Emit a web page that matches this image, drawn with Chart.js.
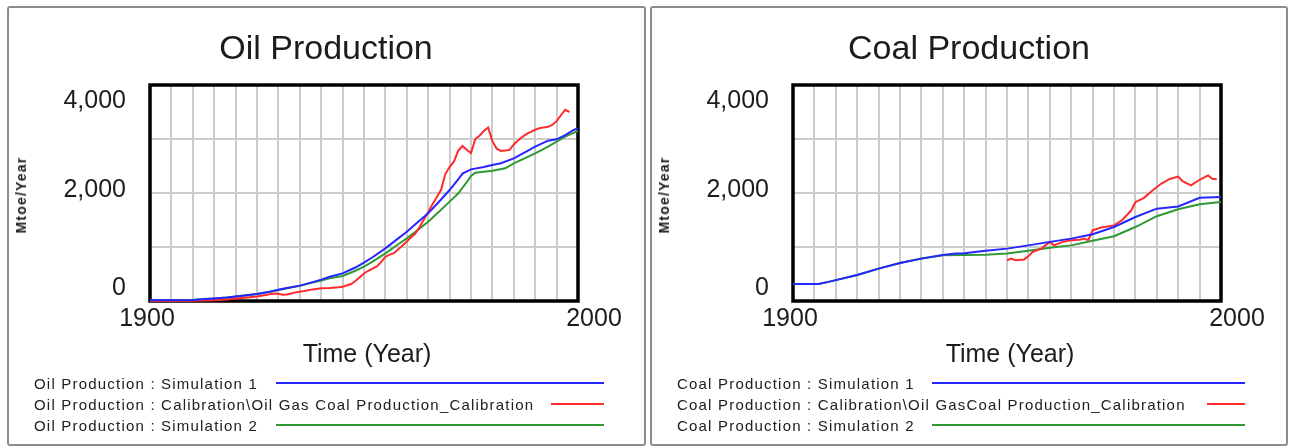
<!DOCTYPE html>
<html>
<head>
<meta charset="utf-8">
<script src="https://cdn.jsdelivr.net/npm/chart.js@4.4.1/dist/chart.umd.min.js"></script>
<style>
  html, body { margin:0; padding:0; background:#fff; width:1294px; height:447px; overflow:hidden; }
  body { position:relative; font-family:"Liberation Sans", Arial, sans-serif; color:#1c1c1c; }
  .panel { position:absolute; top:6px; height:440px; border:2px solid #8c8c8c; border-radius:3px; box-sizing:border-box; }
  canvas { position:absolute; top:0; }
  .t { position:absolute; white-space:nowrap; transform:translate(-50%,-50%); line-height:1; }
  .title { font-size:34px; }
  .axis { font-size:25px; }
  .unit { font-size:14px; font-weight:bold; letter-spacing:1.2px; transform:translate(-50%,-50%) rotate(-90deg); }
  .leg { position:absolute; font-size:15px; letter-spacing:1.2px; white-space:nowrap; line-height:1; transform:translateY(-50%); color:#202020; }
  .ll { position:absolute; height:2px; }
</style>
</head>
<body>
<div class="panel" style="left:7px; width:639px;"></div>
<div class="panel" style="left:650px; width:638px;"></div>
<canvas id="c1" width="640" height="447" style="left:0px"></canvas>
<canvas id="c2" width="640" height="447" style="left:643px"></canvas>
<div id="texts"></div>
<script>
// ---------- DATA ----------
const xTickLabels = [1900, 2000];
const yTickLabels = [0, 2000, 4000];
const unitLabel = "Mtoe/Year";
const timeLabel = "Time (Year)";

// Oil Production
const oilSim1Years = [1900,1905,1910,1913,1915,1918,1920,1922,1925,1928,1930,1932,1935,1938,1940,1942,1945,1948,1950,1952,1955,1958,1960,1962,1965,1968,1970,1972,1973,1975,1978,1980,1982,1985,1988,1990,1993,1995,1997,1999,2000];
const oilSim1Values = [15,15,20,35,45,65,85,100,130,170,210,240,285,350,395,450,512,620,710,810,975,1160,1284,1420,1623,1880,2055,2250,2360,2438,2480,2518,2550,2642,2770,2858,2969,2994,3070,3167,3200];

const oilCalYears = [1900,1905,1910,1913,1915,1918,1920,1922,1925,1927,1929,1930,1931,1932,1934,1936,1938,1940,1942,1944,1945,1947,1948,1949,1950,1951,1952,1953,1954,1955,1956,1957,1958,1959,1960,1961,1962,1963,1964,1965,1966,1967,1968,1969,1970,1971,1972,1973,1974,1975,1976,1977,1978,1979,1980,1981,1982,1983,1984,1985,1986,1987,1988,1989,1990,1991,1992,1993,1994,1995,1996,1997,1998];
const oilCalValues = [0,0,5,10,15,30,45,60,85,110,140,135,115,120,160,185,215,235,240,255,265,315,370,440,510,560,600,640,720,820,860,885,960,1030,1100,1180,1250,1370,1510,1650,1790,1920,2060,2350,2480,2580,2780,2870,2800,2740,3000,3060,3150,3215,2960,2820,2780,2785,2800,2900,2970,3040,3095,3130,3175,3200,3215,3225,3260,3330,3440,3540,3500];

const oilSim2Years = [1900,1905,1910,1913,1915,1918,1920,1922,1925,1928,1930,1932,1935,1938,1940,1942,1945,1948,1950,1952,1955,1958,1960,1962,1965,1968,1970,1972,1974,1975,1976,1980,1983,1985,1988,1990,1993,1995,1997,2000];
const oilSim2Values = [15,15,20,35,45,65,85,100,130,170,205,235,280,340,380,420,463,560,636,730,883,1050,1160,1280,1469,1690,1840,1990,2200,2315,2377,2414,2457,2550,2660,2735,2860,2951,3043,3150];

// Coal Production
const coalSim1Years = [1900,1906,1908,1910,1915,1920,1925,1930,1935,1938,1940,1945,1950,1955,1960,1965,1970,1975,1980,1985,1990,1995,2000];
const coalSim1Values = [313,313,350,387,480,600,705,785,850,880,885,930,970,1030,1095,1155,1235,1370,1555,1710,1750,1910,1925];

const coalCalYears = [1950,1951,1952,1954,1955,1956,1958,1960,1961,1963,1965,1967,1968,1969,1970,1972,1975,1977,1979,1980,1982,1984,1986,1988,1990,1991,1993,1995,1997,1998,1999];
const coalCalValues = [755,785,755,770,830,910,970,1095,1030,1095,1125,1135,1155,1125,1310,1360,1400,1505,1675,1830,1910,2045,2170,2260,2305,2220,2140,2245,2325,2260,2260];

const coalSim2Years = [1900,1906,1908,1910,1915,1920,1925,1930,1935,1940,1945,1950,1955,1960,1965,1970,1975,1980,1985,1990,1995,2000];
const coalSim2Values = [313,313,350,387,480,600,705,785,845,850,855,880,930,985,1030,1115,1200,1370,1570,1700,1790,1835];

// ---------- STYLE ----------
const BLUE = '#2626ff', RED = '#ff2b2b', GREEN = '#2f9a35';
const TEXT = '#1c1c1c';

function pts(xs, ys) { return xs.map((x, i) => ({ x: x, y: ys[i] })); }

const framePlugin = {
  id: 'frame',
  beforeDatasetsDraw(chart) {
    const a = chart.chartArea, ctx = chart.ctx;
    ctx.save();
    ctx.strokeStyle = '#000';
    ctx.lineWidth = 3.5;
    ctx.strokeRect(a.left, a.top, a.right - a.left, a.bottom - a.top);
    ctx.restore();
  },
  afterDraw(chart) {
    const a = chart.chartArea, ctx = chart.ctx;
    const ys = chart.scales.y, xs = chart.scales.x;
    ctx.save();
    ctx.fillStyle = TEXT;
    ctx.font = '25px "Liberation Sans", Arial, sans-serif';
    ctx.textBaseline = 'middle';
    ctx.textAlign = 'right';
    yTickLabels.forEach(v => {
      let y = ys.getPixelForValue(v);
      if (v === ys.max) y += 16; else if (v === ys.min) y -= 13; else y -= 3;
      ctx.fillText(v.toLocaleString('en-US'), a.left - 24, y);
    });
    ctx.textAlign = 'center';
    xTickLabels.forEach(v => {
      let x = xs.getPixelForValue(v);
      if (v === xs.min) x -= 3; else x += 16;
      ctx.fillText(String(v), x, a.bottom + 18);
    });
    ctx.restore();
  }
};

function makeChart(id, s1, cal, s2) {
  return new Chart(document.getElementById(id), {
    type: 'line',
    data: {
      datasets: [
        { data: s1, borderColor: BLUE, borderWidth: 2, pointRadius: 0, tension: 0, clip: 6 },
        { data: cal, borderColor: RED, borderWidth: 2, pointRadius: 0, tension: 0, clip: 6 },
        { data: s2, borderColor: GREEN, borderWidth: 2, pointRadius: 0, tension: 0, clip: 6 }
      ]
    },
    options: {
      responsive: false, animation: false, devicePixelRatio: 1,
      layout: { padding: { left: 150, top: 85, right: 62, bottom: 146 } },
      plugins: { legend: { display: false }, tooltip: { enabled: false }, title: { display: false } },
      scales: {
        x: { type: 'linear', min: 1900, max: 2000,
             ticks: { display: false, stepSize: 5 },
             grid: { color: '#cccccc', lineWidth: 2, drawTicks: false },
             border: { display: false } },
        y: { type: 'linear', min: 0, max: 4000,
             ticks: { display: false, stepSize: 1000 },
             grid: { color: '#cccccc', lineWidth: 2, drawTicks: false },
             border: { display: false } }
      }
    },
    plugins: [framePlugin]
  });
}

makeChart('c1', pts(oilSim1Years, oilSim1Values), pts(oilCalYears, oilCalValues), pts(oilSim2Years, oilSim2Values));
makeChart('c2', pts(coalSim1Years, coalSim1Values), pts(coalCalYears, coalCalValues), pts(coalSim2Years, coalSim2Values));

// ---------- TEXT ----------
const panels = [
  { dx: 0, title: 'Oil Production',
    legend: ['Oil Production : Simulation 1', 'Oil Production : Calibration\\Oil Gas Coal Production_Calibration', 'Oil Production : Simulation 2'],
    lines: [[276, 604], [551, 604], [276, 604]] },
  { dx: 643, title: 'Coal Production',
    legend: ['Coal Production : Simulation 1', 'Coal Production : Calibration\\Oil GasCoal Production_Calibration', 'Coal Production : Simulation 2'],
    lines: [[932, 1245], [1207, 1245], [932, 1245]] }
];
const colors = [BLUE, RED, GREEN];
const rowY = [383, 404, 425];
const host = document.getElementById('texts');
function addT(cls, txt, x, y) {
  const d = document.createElement('div');
  d.className = 't ' + cls; d.textContent = txt;
  d.style.left = x + 'px'; d.style.top = y + 'px';
  host.appendChild(d);
}
panels.forEach(p => {
  addT('title', p.title, 326 + p.dx, 47);
  addT('unit', unitLabel, 21 + p.dx, 195);
  addT('axis', timeLabel, 367 + p.dx, 353);
  p.legend.forEach((txt, i) => {
    const d = document.createElement('div');
    d.className = 'leg'; d.textContent = txt;
    d.style.left = (34 + p.dx) + 'px'; d.style.top = rowY[i] + 'px';
    host.appendChild(d);
    const l = document.createElement('div');
    l.className = 'll';
    l.style.left = p.lines[i][0] + 'px'; l.style.width = (p.lines[i][1] - p.lines[i][0]) + 'px';
    l.style.top = (rowY[i] - 1) + 'px'; l.style.background = colors[i];
    host.appendChild(l);
  });
});
</script>
</body>
</html>
